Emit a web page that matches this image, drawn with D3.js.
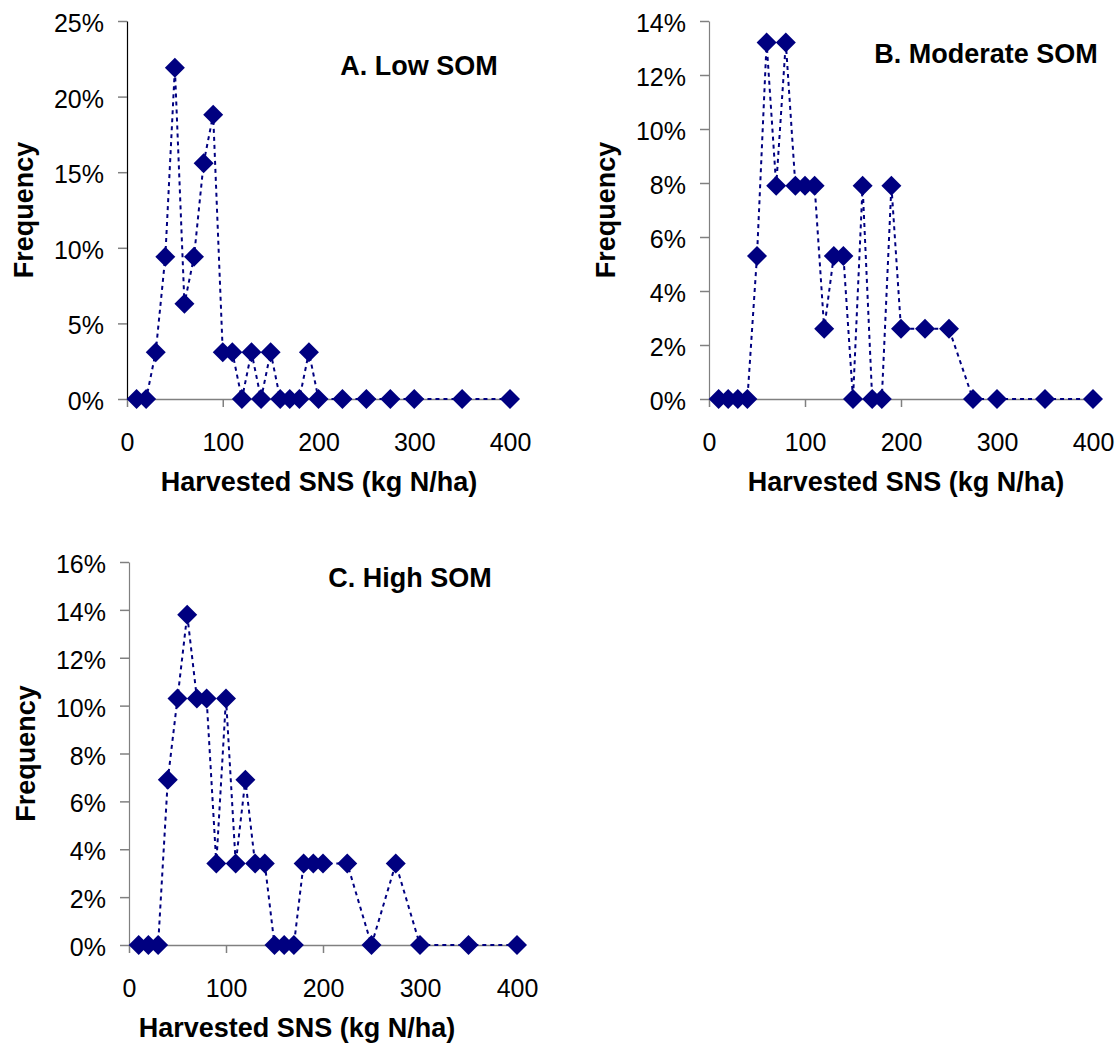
<!DOCTYPE html>
<html>
<head>
<meta charset="utf-8">
<script src="https://cdn.jsdelivr.net/npm/d3@7"></script>
<style>
  html, body { margin: 0; padding: 0; background: #fff; }
  svg { display: block; font-family: "Liberation Sans", Arial, sans-serif; }
</style>
</head>
<body>
<svg id="chart" width="1120" height="1048"></svg>
<script>
// ---- data (frequency as fraction) ----
const harvestedSNS = [10, 20, 30, 40, 50, 60, 70, 80, 90, 100, 110, 120, 130, 140, 150, 160, 170, 180, 190, 200, 225, 250, 275, 300, 350, 400];
const lowSOM      = [0, 0, 0.031, 0.094, 0.219, 0.063, 0.094, 0.156, 0.188, 0.031, 0.031, 0, 0.031, 0, 0.031, 0, 0, 0, 0.031, 0, 0, 0, 0, 0, 0, 0];
const moderateSOM = [0, 0, 0, 0, 0.053, 0.132, 0.079, 0.132, 0.079, 0.079, 0.079, 0.026, 0.053, 0.053, 0, 0.079, 0, 0, 0.079, 0.026, 0.026, 0.026, 0, 0, 0, 0];
const highSOM     = [0, 0, 0, 0.069, 0.103, 0.138, 0.103, 0.103, 0.034, 0.103, 0.034, 0.069, 0.034, 0.034, 0, 0, 0, 0.034, 0.034, 0.034, 0.034, 0, 0.034, 0, 0, 0];
const xTicks = [0, 100, 200, 300, 400];
const yTicksLow = [0, 0.05, 0.10, 0.15, 0.20, 0.25];
const yTicksModerate = [0, 0.02, 0.04, 0.06, 0.08, 0.10, 0.12, 0.14];
const yTicksHigh = [0, 0.02, 0.04, 0.06, 0.08, 0.10, 0.12, 0.14, 0.16];
const panelTitles = ["A. Low SOM", "B. Moderate SOM", "C. High SOM"];
const xAxisTitle = "Harvested SNS (kg N/ha)";
const yAxisTitle = "Frequency";

// ---- layout ----
const panels = [
  { series: lowSOM, yTicks: yTicksLow, title: panelTitles[0],
    x0: 127, x1: 510, yTop: 21, yBot: 399, titleX: 419, titleY: 75, xTitleX: 319, yAxisColor: "#000" },
  { series: moderateSOM, yTicks: yTicksModerate, title: panelTitles[1],
    x0: 709, x1: 1093, yTop: 21, yBot: 399, titleX: 986, titleY: 63, xTitleX: 906, yAxisColor: "#808080" },
  { series: highSOM, yTicks: yTicksHigh, title: panelTitles[2],
    x0: 129, x1: 517, yTop: 562, yBot: 945, titleX: 410, titleY: 587, xTitleX: 297, yAxisColor: "#808080" }
];

const svg = d3.select("#chart");
const navy = "#000080";
const diamond = "M0,-10L10,0L0,10L-10,0Z";

panels.forEach(p => {
  const g = svg.append("g");
  const x = d3.scaleLinear().domain([0, 400]).range([p.x0, p.x1]);
  const y = d3.scaleLinear().domain([0, d3.max(p.yTicks)]).range([p.yBot, p.yTop]);

  // y axis
  const ya = g.append("g").attr("transform", `translate(${p.x0},0)`)
    .call(d3.axisLeft(y).tickValues(p.yTicks).tickFormat(d3.format(".0%"))
      .tickSize(9).tickSizeOuter(0).tickPadding(14));
  ya.select(".domain").attr("stroke", p.yAxisColor).attr("stroke-width", 1.2);
  ya.selectAll(".tick line").attr("stroke", "#808080").attr("stroke-width", 1.5);
  ya.selectAll(".tick text").attr("font-size", 25).attr("fill", "#000")
    .attr("font-family", "'Liberation Sans', Arial, sans-serif").attr("dy", "0.42em");

  // x axis
  const xa = g.append("g").attr("transform", `translate(0,${p.yBot})`)
    .call(d3.axisBottom(x).tickValues(xTicks).tickFormat(d3.format("d"))
      .tickSize(8).tickSizeOuter(0).tickPadding(26));
  xa.select(".domain").attr("stroke", "#808080").attr("stroke-width", 1.5);
  xa.selectAll(".tick line").attr("stroke", "#808080").attr("stroke-width", 1.5);
  xa.selectAll(".tick text").attr("font-size", 25).attr("fill", "#000")
    .attr("font-family", "'Liberation Sans', Arial, sans-serif");
  // y axis drawn above x axis line
  ya.raise();

  const pts = harvestedSNS.map((v, i) => ({ x: v, y: p.series[i] }));

  // dotted connecting line
  g.append("path").datum(pts)
    .attr("d", d3.line().x(d => x(d.x)).y(d => y(d.y)))
    .attr("fill", "none").attr("stroke", navy).attr("stroke-width", 2)
    .attr("stroke-dasharray", "4,4");

  // diamond markers
  g.selectAll(".pt").data(pts).join("path").attr("class", "pt")
    .attr("d", diamond)
    .attr("transform", d => `translate(${x(d.x)},${y(d.y)})`)
    .attr("fill", navy);

  // panel title
  g.append("text").attr("x", p.titleX).attr("y", p.titleY)
    .attr("text-anchor", "middle").attr("font-weight", "bold").attr("font-size", 27)
    .text(p.title);

  // x axis title
  g.append("text").attr("x", p.xTitleX).attr("y", p.yBot + 92)
    .attr("text-anchor", "middle").attr("font-weight", "bold").attr("font-size", 27)
    .text(xAxisTitle);

  // y axis title
  const cy = (p.yTop + p.yBot) / 2;
  g.append("text").attr("transform", `translate(${p.x0 - 94},${cy}) rotate(-90)`)
    .attr("text-anchor", "middle").attr("font-weight", "bold").attr("font-size", 27)
    .text(yAxisTitle);
});
</script>
</body>
</html>
